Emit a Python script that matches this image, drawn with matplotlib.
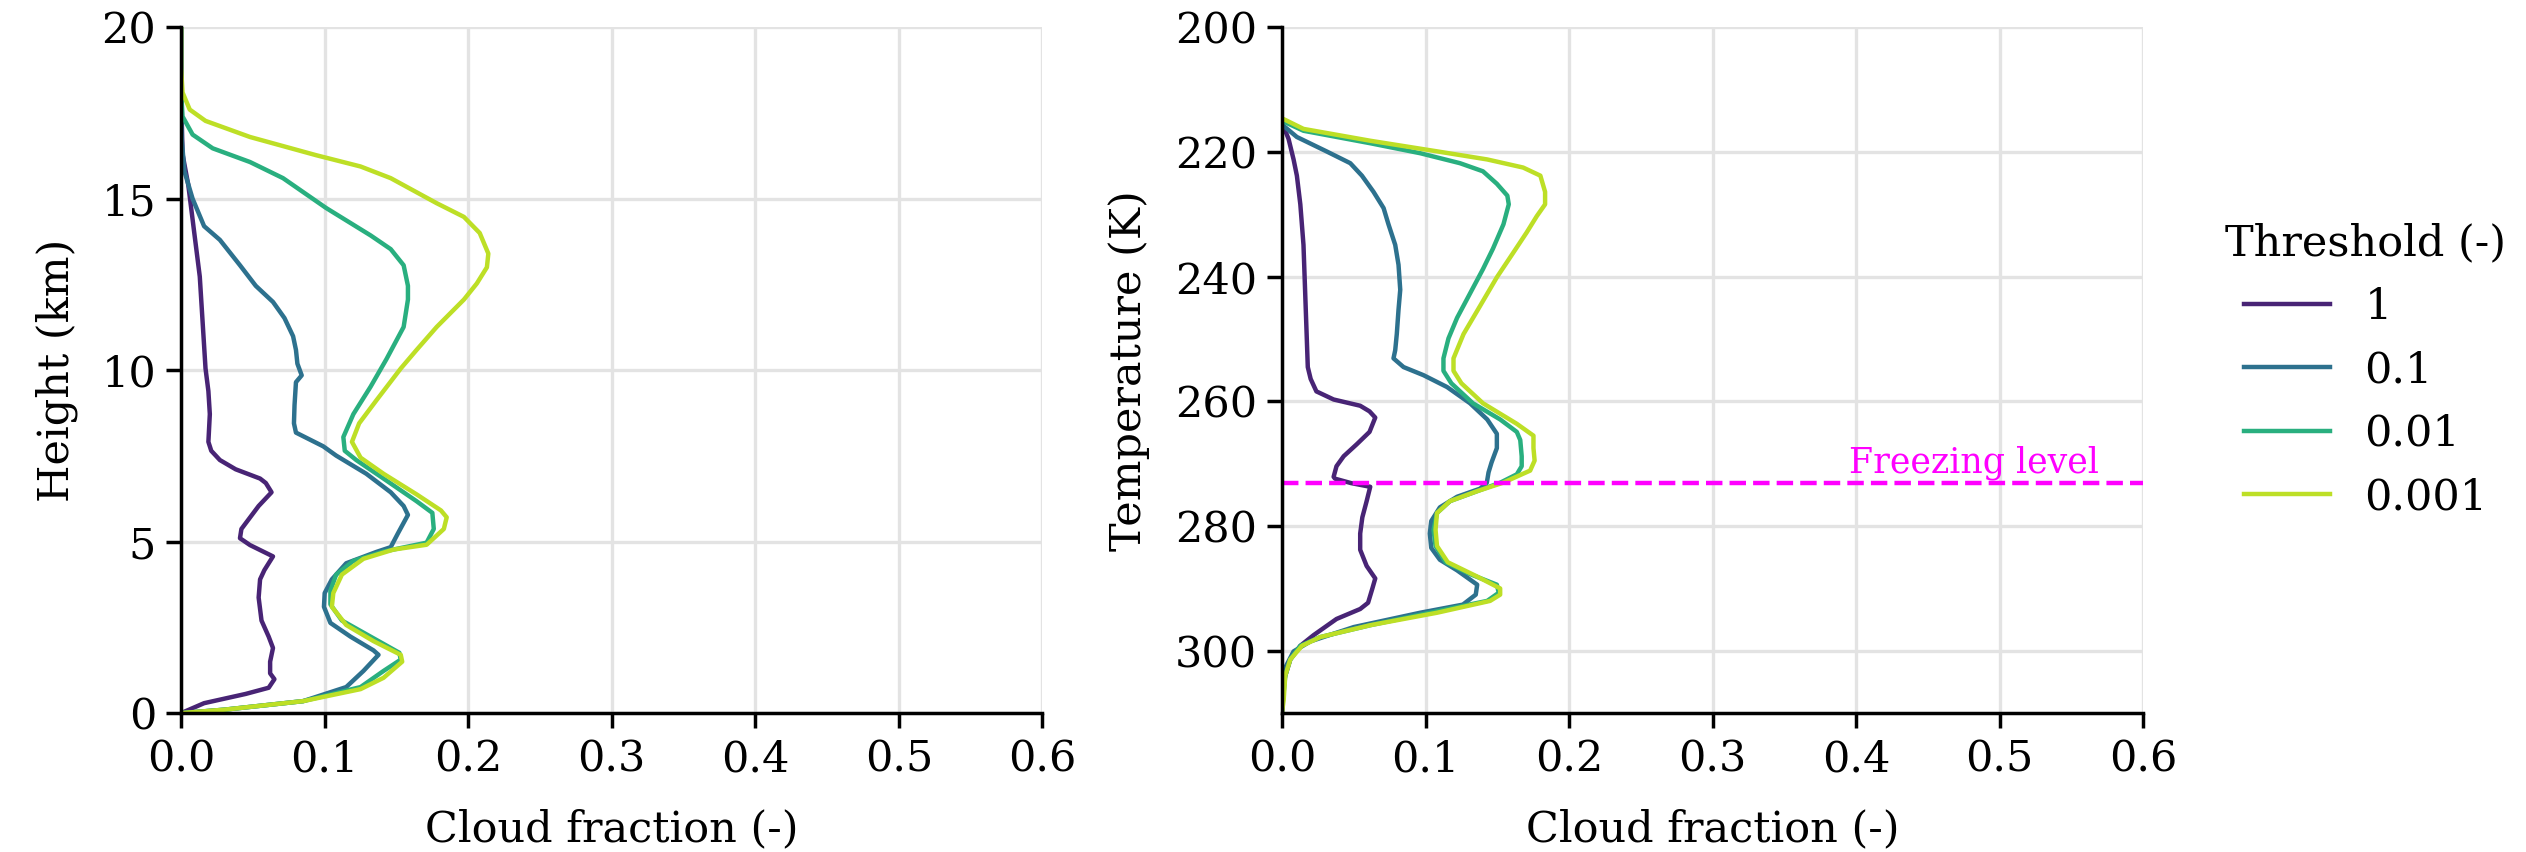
import matplotlib
matplotlib.use("Agg")
import matplotlib.pyplot as plt
import numpy as np

plt.rcParams['font.family'] = ['DejaVu Serif']
plt.rcParams['font.size'] = 15.5

thresholds = ['1', '0.1', '0.01', '0.001']
colors = [plt.cm.viridis(v) for v in [0.1, 0.37, 0.63, 0.9]]

# --- left panel: cloud fraction vs height (km)
h_1 = [0, 0.29, 0.56, 0.74, 0.99, 1.16, 1.5, 1.9, 2.23, 2.7, 3.37, 3.9, 4.17, 4.57, 4.9, 5.1, 5.37, 6.04, 6.44, 6.71,
       6.84, 7.11, 7.38, 7.65, 7.91, 8.72, 9.39, 10.05, 11.39, 12.73, 14.06, 15.4, 16.3, 18.1, 20]
cf_h_1 = [0, 0.016, 0.045, 0.061, 0.065, 0.062, 0.062, 0.064, 0.061, 0.056, 0.054, 0.055, 0.058, 0.064, 0.048, 0.041,
          0.042, 0.054, 0.063, 0.059, 0.055, 0.038, 0.027, 0.021, 0.019, 0.020, 0.019, 0.017, 0.015, 0.013, 0.009,
          0.005, 0.001, 0, 0]

h_01 = [0, 0.1, 0.35, 0.76, 1.23, 1.70, 1.83, 2.23, 2.63, 3.1, 3.5, 3.9, 4.37, 4.7, 4.84, 5.24, 5.78, 6.04, 6.44, 6.98,
        7.51, 7.78, 8.18, 8.45, 8.98, 9.65, 9.85, 10.19, 10.59, 10.99, 11.52, 11.99, 12.46, 13.06, 13.8, 14.2, 15.0,
        15.8, 16.7, 17.4, 20]
cf_h_01 = [0, 0.03, 0.085, 0.115, 0.127, 0.1375, 0.134, 0.118, 0.104, 0.0995, 0.100, 0.105, 0.115, 0.136, 0.146, 0.151,
           0.158, 0.155, 0.146, 0.129, 0.108, 0.099, 0.080, 0.0786, 0.079, 0.080, 0.084, 0.081, 0.080, 0.078, 0.072,
           0.064, 0.052, 0.041, 0.027, 0.016, 0.008, 0.0023, 0.0005, 0, 0]

h_001 = [0, 0.1, 0.35, 0.76, 1.23, 1.56, 1.76, 2.23, 2.70, 3.17, 3.57, 4.04, 4.44, 4.71, 4.97, 5.37, 5.84, 6.18, 6.84,
         7.38, 7.65, 8.05, 8.72, 9.52, 10.32, 11.26, 12.06, 12.46, 13.06, 13.53, 13.93, 14.73, 15.6, 16.07, 16.47,
         16.87, 17.4, 18.1, 20]
cf_h_001 = [0, 0.03, 0.085, 0.125, 0.141, 0.153, 0.152, 0.132, 0.112, 0.104, 0.104, 0.108, 0.120, 0.141, 0.171, 0.176,
            0.175, 0.164, 0.141, 0.122, 0.114, 0.113, 0.120, 0.132, 0.143, 0.155, 0.158, 0.158, 0.155, 0.146, 0.132,
            0.101, 0.071, 0.048, 0.022, 0.008, 0.001, 0, 0]

h_0001 = [0, 0.1, 0.35, 0.70, 1.03, 1.50, 1.70, 2.10, 2.57, 3.1, 3.5, 4.04, 4.5, 4.77, 4.91, 5.37, 5.71, 5.91, 6.38,
          6.98, 7.45, 7.91, 8.45, 9.12, 10.05, 10.59, 11.26, 12.06, 12.53, 13.0, 13.4, 14.0, 14.47, 14.87, 15.6, 15.94,
          16.27, 16.8, 17.27, 17.6, 18.1, 18.8, 20]
cf_h_0001 = [0, 0.03, 0.085, 0.125, 0.141, 0.154, 0.153, 0.134, 0.115, 0.105, 0.106, 0.112, 0.127, 0.148, 0.171, 0.183,
             0.185, 0.181, 0.164, 0.141, 0.125, 0.119, 0.124, 0.136, 0.153, 0.164, 0.178, 0.197, 0.206, 0.213, 0.214,
             0.208, 0.197, 0.178, 0.146, 0.125, 0.094, 0.048, 0.017, 0.006, 0.001, 0, 0]

# --- right panel: cloud fraction vs temperature (K)
t_1 = [215.3, 217.9, 221.2, 223.8, 228.4, 234.9, 241.4, 247.9, 254.5, 256.4, 258.4, 259.7, 260.7, 261.6, 262.6, 264.9,
       266.9, 268.8, 270.4, 272.1, 272.4, 273.1, 273.7, 276.0, 278.6, 281.2, 283.8, 286.4, 288.4, 290.0, 292.3, 293.3,
       294.9, 297.5, 299.2, 301.4, 304.0, 306.7, 310]
cf_t_1 = [0, 0.0046, 0.0081, 0.0104, 0.0128, 0.015, 0.016, 0.017, 0.018, 0.020, 0.024, 0.036, 0.0545, 0.061, 0.065,
          0.061, 0.052, 0.043, 0.038, 0.036, 0.037, 0.048, 0.0615, 0.059, 0.056, 0.0545, 0.0545, 0.059, 0.065, 0.063,
          0.060, 0.0545, 0.038, 0.022, 0.0128, 0.0058, 0.0023, 0, 0]

t_01 = [215.6, 217.6, 219.9, 221.8, 223.8, 226.4, 229.0, 231.6, 234.9, 238.1, 242.1, 245.3, 249.2, 251.8, 253.1, 254.5,
        255.8, 257.7, 260.3, 262.9, 265.2, 267.5, 269.8, 271.4, 273.05, 274.0, 275.3, 277.0, 279.2, 281.2, 283.5,
        285.4, 287.1, 289.4, 291.0, 292.6, 293.9, 296.2, 298.5, 300.1, 302.7, 306.7, 310]
cf_t_01 = [0, 0.0104, 0.031, 0.0476, 0.0557, 0.0638, 0.0708, 0.0742, 0.0789, 0.0812, 0.0824, 0.0812, 0.080, 0.0789,
           0.0777, 0.0847, 0.0986, 0.115, 0.131, 0.143, 0.1497, 0.1497, 0.146, 0.1439, 0.1427, 0.138, 0.122, 0.110,
           0.104, 0.103, 0.104, 0.110, 0.122, 0.136, 0.135, 0.126, 0.0963, 0.050, 0.0197, 0.0081, 0.0023, 0.0007, 0]

t_001 = [215.0, 216.6, 218.6, 220.2, 221.8, 223.1, 225.1, 227.0, 228.4, 231.6, 235.5, 238.8, 242.7, 246.6, 249.9, 253.1,
         255.1, 257.1, 260.3, 262.9, 264.9, 266.2, 268.8, 270.4, 271.7, 273.05, 274.4, 276.0, 277.9, 280.6, 283.2,
         285.8, 287.7, 289.4, 290.7, 292.0, 293.9, 295.9, 297.8, 299.2, 301.4, 304.0, 307.9, 310]
cf_t_001 = [0, 0.015, 0.0615, 0.0963, 0.124, 0.140, 0.1497, 0.157, 0.158, 0.1543, 0.147, 0.140, 0.131, 0.122, 0.116,
            0.1125, 0.1125, 0.118, 0.133, 0.152, 0.1636, 0.166, 0.167, 0.167, 0.1636, 0.152, 0.136, 0.117, 0.108,
            0.1056, 0.107, 0.114, 0.131, 0.1497, 0.151, 0.143, 0.103, 0.0615, 0.0267, 0.0128, 0.0058, 0.0023, 0.0007, 0]

t_0001 = [214.6, 216.3, 218.2, 219.9, 221.2, 222.5, 223.8, 226.4, 228.4, 230.3, 232.9, 236.2, 240.1, 244.7, 249.2,
          253.1, 255.1, 257.1, 260.3, 263.6, 265.5, 267.5, 269.5, 271.1, 273.05, 274.4, 276.0, 277.9, 280.6, 283.2,
          285.8, 288.1, 290.0, 291.0, 292.0, 293.9, 295.9, 297.8, 299.2, 301.4, 304.0, 307.9, 310]
cf_t_0001 = [0, 0.015, 0.0615, 0.108, 0.143, 0.168, 0.180, 0.1833, 0.1833, 0.1775, 0.1705, 0.161, 0.1497, 0.138,
             0.1265, 0.1195, 0.1195, 0.125, 0.140, 0.1636, 0.1752, 0.1752, 0.176, 0.1729, 0.154, 0.136, 0.117, 0.108,
             0.107, 0.108, 0.1155, 0.136, 0.152, 0.152, 0.145, 0.108, 0.0615, 0.0267, 0.014, 0.0058, 0.0023, 0.0012, 0]

freezing_level = 273.15

height_profiles = [(cf_h_1, h_1), (cf_h_01, h_01), (cf_h_001, h_001), (cf_h_0001, h_0001)]
temp_profiles = [(cf_t_1, t_1), (cf_t_01, t_01), (cf_t_001, t_001), (cf_t_0001, t_0001)]

fig = plt.figure(figsize=(12.63, 4.26), dpi=200)
ax1 = fig.add_axes([0.0717, 0.163, 0.341, 0.805])
ax2 = fig.add_axes([0.5075, 0.163, 0.341, 0.805])

for (cf, h), c, lab in zip(height_profiles, colors, thresholds):
    ax1.plot(cf, h, color=c, lw=1.6, label=lab)
for (cf, t), c, lab in zip(temp_profiles, colors, thresholds):
    ax2.plot(cf, t, color=c, lw=1.6, label=lab)

ax2.axhline(freezing_level, color='magenta', ls='--', lw=1.6)
ax2.text(0.395, freezing_level - 0.6, 'Freezing level', color='magenta', fontsize=12.5, ha='left', va='bottom')

ax1.set_xlim(0, 0.6)
ax1.set_ylim(0, 20)
ax1.set_yticks([0, 5, 10, 15, 20])
ax1.set_ylabel('Height (km)', labelpad=8.5)
ax1.set_xlabel('Cloud fraction (-)', labelpad=10)

ax2.set_xlim(0, 0.6)
ax2.set_ylim(310, 200)
ax2.set_yticks([200, 220, 240, 260, 280, 300])
ax2.set_ylabel('Temperature (K)', labelpad=9)
ax2.set_xlabel('Cloud fraction (-)', labelpad=10)

for ax in (ax1, ax2):
    ax.set_xticks([0, 0.1, 0.2, 0.3, 0.4, 0.5, 0.6])
    ax.grid(True, color='#e3e3e3', lw=1.2)
    ax.set_axisbelow(True)
    for s in ('top', 'right'):
        ax.spines[s].set_visible(False)
    for s in ('left', 'bottom'):
        ax.spines[s].set_linewidth(1.25)
    ax.tick_params(width=1.25, length=5.5, labelsize=15.5)

ax2.legend(title='Threshold (-)', frameon=False, loc='center left', bbox_to_anchor=(1.05, 0.5),
           fontsize=15.5, title_fontsize=15.5)

fig.savefig('out.png', dpi=200)
